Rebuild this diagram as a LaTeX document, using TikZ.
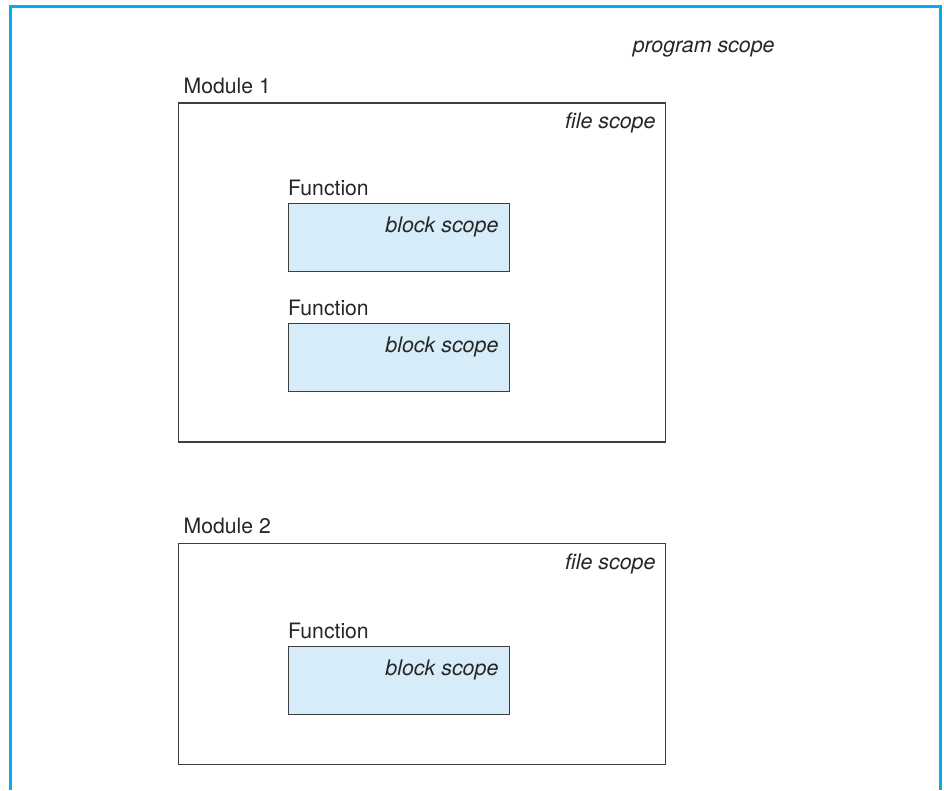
\documentclass[tikz,border=0pt]{standalone}
\usepackage{fontspec}
\setmainfont{TeX Gyre Heros}
\usepackage{xcolor}
\usepackage{tikz}
\usetikzlibrary{arrows.meta, positioning}
\definecolor{scopeblue}{RGB}{0,174,239}
\definecolor{blockfill}{RGB}{214,237,249}
\definecolor{boxline}{RGB}{62,62,62}
\tikzset{
	modbox/.style={draw=boxline, line width=1.2pt, minimum width=487pt, anchor=north west, inner sep=0pt},
	funcbox/.style={draw=boxline, line width=1.2pt, fill=blockfill, minimum width=221pt, minimum height=68pt, anchor=north west, inner sep=0pt},
	scopelbl/.style={inner sep=0pt, text depth=0pt, font=\fontsize{21.2}{24}\selectfont, text=black!85},
}

\begin{document}
\begin{tikzpicture}[
				x=1pt, y=-1pt,
				itlbl/.style={scopelbl, font=\fontsize{21.4}{24}\selectfont\itshape},
				>=Stealth
				]
				\useasboundingbox (0,0) rectangle (944,790);
				% program scope frame, open at the bottom
				\coordinate (frametl) at (10.5,6.5);
				\coordinate (framebl) at (10.5,790);
				\coordinate (frametr) at (940.8,6.5);
				\coordinate (framebr) at (940.8,790);
				\draw[scopeblue, line width=3.2pt] (framebl) -- (frametl) -- (frametr) -- (framebr);
				\node[itlbl, below left=45.5pt and 166pt of frametr, anchor=base east] (prog) {program scope};
				% modules
				\node[modbox, minimum height=339pt] (mod1) at (178,102.3) {};
				\node[modbox, minimum height=221pt] (mod2) at (178,543) {};
				\node[scopelbl, above right=9pt and 5.5pt of mod1.north west] (mod1lbl) {Module 1};
				\node[scopelbl, above right=9pt and 5.5pt of mod2.north west] (mod2lbl) {Module 2};
				\node[itlbl, below left=26pt and 10.5pt of mod1.north east, anchor=base east] (file1) {file scope};
				\node[itlbl, below left=26pt and 10.5pt of mod2.north east, anchor=base east] (file2) {file scope};
				% functions
				\node[funcbox] (fn1) at (288,203) {};
				\node[funcbox] (fn2) at (288,323) {};
				\node[funcbox] (fn3) at (288,646) {};
				\foreach \f in {fn1,fn2,fn3}{
					\node[scopelbl, above right=7.3pt and 0pt of \f.north west] (\f lbl) {Function};
					\node[itlbl, below left=29pt and 11.6pt of \f.north east, anchor=base east] (\f blk) {block scope};
				}
			\end{tikzpicture}
\end{document}
